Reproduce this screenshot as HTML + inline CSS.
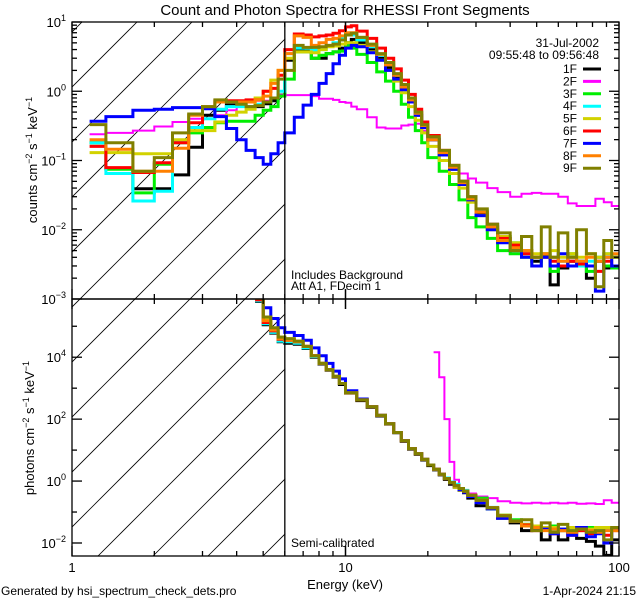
<!DOCTYPE html>
<html><head><meta charset="utf-8"><style>
html,body{margin:0;padding:0;background:#fff;}
svg{display:block;font-family:"Liberation Sans",sans-serif;}
</style></head><body>
<svg id="chart" width="640" height="600" viewBox="0 0 640 600" xmlns="http://www.w3.org/2000/svg">
<defs>
<clipPath id="clipTop"><rect x="72" y="22" width="547" height="277"/></clipPath>
<clipPath id="clipBot"><rect x="72" y="299" width="547" height="257"/></clipPath>
<clipPath id="clipHatch"><rect x="72" y="22" width="213.5" height="534"/></clipPath>
</defs>
<rect width="640" height="600" fill="#fff"/>
<g id="hatch" clip-path="url(#clipHatch)" stroke="#000" stroke-width="0.8"></g>
<g id="topSeries" clip-path="url(#clipTop)"></g>
<g id="botSeries" clip-path="url(#clipBot)"></g>
<g id="axes" stroke="#000" fill="none" stroke-width="1.3"></g>
<g id="labels" fill="#000"></g>
<text x="345" y="15" font-size="15" text-anchor="middle">Count and Photon Spectra for RHESSI Front Segments</text>
<text x="599" y="47" font-size="12" text-anchor="end">31-Jul-2002</text>
<text x="599" y="59" font-size="12" text-anchor="end">09:55:48 to 09:56:48</text>
<text x="291" y="279" font-size="12">Includes Background</text>
<text x="291" y="290" font-size="12">Att A1, FDecim 1</text>
<text x="291" y="547" font-size="12">Semi-calibrated</text>
<text x="345" y="589" font-size="13" text-anchor="middle">Energy (keV)</text>
<text x="1" y="595" font-size="12">Generated by hsi_spectrum_check_dets.pro</text>
<text x="636" y="595" font-size="12" text-anchor="end">1-Apr-2024 21:15</text>
<text transform="translate(37,160) rotate(-90)" font-size="13" text-anchor="middle">counts cm<tspan dy="-5" font-size="9">−2</tspan><tspan dy="5"> s</tspan><tspan dy="-5" font-size="9">−1</tspan><tspan dy="5"> keV</tspan><tspan dy="-5" font-size="9">−1</tspan></text>
<text transform="translate(34,428) rotate(-90)" font-size="13" text-anchor="middle">photons cm<tspan dy="-5" font-size="9">−2</tspan><tspan dy="5"> s</tspan><tspan dy="-5" font-size="9">−1</tspan><tspan dy="5"> keV</tspan><tspan dy="-5" font-size="9">−1</tspan></text>
</svg>
<script>
// ---- data ----
const detectors = ["1F","2F","3F","4F","5F","6F","7F","8F","9F"];
const colors = ["#000000","#ff00ff","#00ee00","#00ffff","#d2d200","#ff0000","#0000ff","#ff8000","#808000"];
const topEdges = [1.16,1.33,1.67,2,2.33,2.67,3,3.33,3.67,4,4.33,4.67,5,5.33,5.67,6,6.5,7,7.5,8,8.5,9,9.5,10,10.5,11,12,13,14,15,16,17,18,19,20,22,24,26,28,30,33,36,40,44,48,52,56,60,65,70,76,82,88,94,100];
const counts1F = [0.18,0.076,0.039,0.039,0.062,0.155,0.45,0.53,0.63,0.63,0.6,0.6,0.66,0.73,0.88,2.8,3.9,3.8,3.0,3.0,3.5,3.7,4.2,5.0,5.6,5.0,4.0,3.0,2.2,1.6,1.1,0.7,0.45,0.3,0.2,0.12,0.075,0.045,0.028,0.017,0.011,0.0075,0.0055,0.005,0.0035,0.0042,0.0016,0.0028,0.0035,0.003,0.002,0.0035,0.0028,0.003];
const counts2F = [0.24,0.25,0.27,0.31,0.36,0.4,0.4,0.45,0.53,0.6,0.6,0.73,0.73,0.8,0.88,0.88,0.88,0.88,0.85,0.78,0.78,0.75,0.7,0.68,0.6,0.55,0.42,0.3,0.29,0.29,0.32,0.33,0.34,0.27,0.22,0.14,0.085,0.065,0.055,0.048,0.04,0.035,0.03,0.033,0.034,0.033,0.033,0.03,0.024,0.022,0.022,0.028,0.025,0.022];
const counts3F = [0.18,0.075,0.034,0.088,0.18,0.25,0.3,0.35,0.37,0.37,0.37,0.45,0.53,0.6,0.85,1.5,3.7,3.7,3.0,3.3,3.5,3.7,3.8,4.6,4.2,3.4,2.6,1.9,1.4,1.0,0.65,0.42,0.27,0.18,0.11,0.07,0.045,0.027,0.015,0.011,0.0075,0.005,0.0045,0.004,0.003,0.0045,0.0025,0.003,0.0045,0.0035,0.0025,0.004,0.003,0.0028];
const counts4F = [0.18,0.065,0.026,0.036,0.19,0.3,0.4,0.55,0.6,0.6,0.6,0.65,0.7,0.8,1.0,3.5,4.2,4.2,3.9,4.0,4.5,5.0,5.8,6.5,6.5,5.5,4.4,3.3,2.4,1.7,1.2,0.75,0.5,0.32,0.21,0.13,0.08,0.05,0.03,0.019,0.012,0.008,0.0065,0.005,0.004,0.0045,0.004,0.0035,0.004,0.003,0.0035,0.004,0.0045,0.004];
const counts5F = [0.13,0.13,0.125,0.125,0.2,0.27,0.27,0.36,0.45,0.5,0.55,0.8,1.0,1.45,2.0,3.0,3.7,3.7,3.6,4.0,4.4,4.5,4.8,5.0,5.0,4.6,3.7,2.8,2.0,1.4,0.95,0.6,0.38,0.25,0.16,0.1,0.065,0.04,0.025,0.016,0.01,0.008,0.0065,0.005,0.0045,0.0045,0.005,0.004,0.0045,0.004,0.0045,0.004,0.0045,0.004];
const counts6F = [0.16,0.079,0.067,0.093,0.18,0.35,0.58,0.73,0.73,0.73,0.75,0.75,1.0,1.1,1.7,4.0,6.7,6.5,6.1,6.3,6.5,6.9,7.5,8.5,8.8,7.4,5.8,4.2,3.0,2.1,1.45,0.9,0.55,0.36,0.23,0.14,0.085,0.05,0.03,0.018,0.012,0.0075,0.006,0.0045,0.004,0.004,0.0035,0.003,0.0035,0.0032,0.003,0.0025,0.0035,0.003];
const counts7F = [0.37,0.43,0.53,0.55,0.58,0.58,0.56,0.43,0.29,0.2,0.14,0.11,0.088,0.125,0.18,0.25,0.42,0.63,0.9,1.3,1.8,2.5,3.3,4.2,4.6,4.4,3.6,2.8,2.0,1.5,1.05,0.7,0.45,0.3,0.2,0.12,0.075,0.045,0.027,0.016,0.01,0.0065,0.005,0.004,0.003,0.004,0.003,0.0045,0.003,0.0035,0.003,0.0013,0.004,0.003];
const counts8F = [0.2,0.145,0.07,0.07,0.15,0.45,0.6,0.7,0.7,0.7,0.7,0.75,0.85,1.3,2.0,3.5,6.3,6.0,4.6,5.0,5.6,5.8,6.3,7.0,7.0,6.0,4.6,3.4,2.4,1.7,1.15,0.75,0.48,0.32,0.2,0.13,0.08,0.048,0.028,0.018,0.011,0.007,0.0055,0.005,0.004,0.0045,0.004,0.0035,0.004,0.0035,0.004,0.0035,0.004,0.0045];
const counts9F = [0.33,0.18,0.07,0.11,0.25,0.47,0.6,0.75,0.7,0.65,0.6,0.62,0.7,0.8,1.5,2.0,4.6,4.3,4.3,4.4,4.6,4.8,5.5,6.5,6.9,6.0,4.8,3.5,2.6,1.8,1.25,0.8,0.5,0.33,0.22,0.14,0.085,0.05,0.03,0.02,0.012,0.009,0.005,0.008,0.004,0.011,0.004,0.009,0.004,0.01,0.0045,0.0015,0.007,0.004];
const botEdges = [4.67,5,5.33,5.67,6,6.5,7,7.5,8,8.5,9,9.5,10,11,12,13,14,15,16,17,18,19,20,21,22,23,24,25,26,27,28,30,33,36,40,44,48,52,56,60,65,70,76,82,88,94,100];
// photon flux as log10(photons cm^-2 s^-1 keV^-1)
const photLog1F = [5.8,5.05,4.78,4.5,4.45,4.42,4.28,4.0,3.78,3.58,3.36,3.12,2.84,2.6,2.38,2.1,1.84,1.56,1.28,1.03,0.86,0.68,0.5,0.36,0.2,0.05,-0.1,-0.2,-0.3,-0.38,-0.55,-0.8,-0.9,-1.2,-1.35,-1.6,-1.55,-1.9,-1.65,-1.9,-1.7,-1.85,-1.95,-2.1,-2.4,-1.9];
const photLog2F = [null,null,null,null,null,null,null,null,null,null,null,null,null,null,null,null,null,null,null,null,null,null,null,4.16,3.35,2.0,0.62,0.04,-0.25,-0.32,-0.4,-0.5,-0.55,-0.65,-0.7,-0.72,-0.7,-0.72,-0.7,-0.72,-0.7,-0.73,-0.72,-0.74,-0.62,-0.7];
const photLog3F = [5.85,5.1,4.82,4.55,4.52,4.48,4.32,4.03,3.8,3.6,3.38,3.15,2.85,2.62,2.4,2.12,1.85,1.57,1.3,1.05,0.88,0.7,0.52,0.38,0.22,0.08,-0.05,-0.15,-0.24,-0.33,-0.46,-0.55,-0.9,-1.1,-1.25,-1.4,-1.45,-1.5,-1.45,-1.6,-1.5,-1.55,-1.5,-1.6,-1.55,-1.5];
const photLog4F = [5.82,5.08,4.8,4.52,4.5,4.45,4.3,4.02,3.8,3.6,3.38,3.15,2.85,2.62,2.4,2.12,1.85,1.57,1.3,1.05,0.88,0.7,0.52,0.38,0.22,0.1,-0.03,-0.1,-0.24,-0.3,-0.46,-0.62,-0.85,-1.1,-1.3,-1.4,-1.5,-1.55,-1.6,-1.55,-1.6,-1.55,-1.65,-1.6,-1.55,-1.55];
const photLog5F = [6.0,5.25,4.9,4.65,4.58,4.52,4.35,4.05,3.8,3.6,3.38,3.15,2.85,2.62,2.4,2.12,1.85,1.57,1.3,1.05,0.88,0.7,0.52,0.38,0.22,0.08,-0.05,-0.2,-0.3,-0.33,-0.46,-0.62,-0.86,-1.1,-1.3,-1.4,-1.45,-1.5,-1.5,-1.55,-1.5,-1.6,-1.55,-1.5,-1.5,-1.55];
const photLog6F = [5.85,5.12,4.85,4.58,4.55,4.5,4.35,4.05,3.8,3.6,3.38,3.15,2.85,2.62,2.4,2.12,1.85,1.57,1.3,1.05,0.88,0.7,0.52,0.38,0.22,0.08,-0.05,-0.15,-0.24,-0.33,-0.46,-0.62,-0.86,-1.12,-1.3,-1.42,-1.6,-1.55,-1.7,-1.6,-1.75,-1.6,-1.7,-1.65,-1.75,-1.6];
const photLog7F = [5.95,5.6,5.25,4.95,4.8,4.7,4.55,4.3,4.05,3.8,3.55,3.3,2.92,2.65,2.4,2.12,1.85,1.57,1.3,1.05,0.88,0.7,0.52,0.38,0.22,0.08,-0.05,-0.15,-0.28,-0.36,-0.5,-0.7,-0.9,-1.2,-1.3,-1.45,-1.55,-1.55,-1.7,-1.55,-1.75,-1.5,-1.8,-1.7,-2.0,-1.55];
const photLog8F = [5.9,5.18,4.88,4.6,4.55,4.5,4.35,4.05,3.8,3.6,3.38,3.15,2.85,2.62,2.4,2.12,1.85,1.57,1.3,1.05,0.88,0.7,0.52,0.38,0.22,0.08,-0.05,-0.15,-0.24,-0.33,-0.46,-0.62,-0.86,-1.12,-1.3,-1.45,-1.5,-1.6,-1.55,-1.6,-1.65,-1.55,-1.6,-1.65,-1.6,-1.6];
const photLog9F = [6.0,5.3,4.95,4.65,4.6,4.52,4.35,4.05,3.8,3.6,3.38,3.15,2.85,2.62,2.4,2.12,1.85,1.57,1.3,1.05,0.88,0.7,0.52,0.38,0.22,0.08,-0.05,-0.15,-0.24,-0.33,-0.46,-0.62,-0.86,-1.12,-1.3,-1.25,-1.6,-1.35,-1.65,-1.4,-1.6,-1.55,-1.65,-1.6,-1.9,-1.5];
const topSeries = [counts1F,counts2F,counts3F,counts4F,counts5F,counts6F,counts7F,counts8F,counts9F];
const botSeries = [photLog1F,photLog2F,photLog3F,photLog4F,photLog5F,photLog6F,photLog7F,photLog8F,photLog9F];
const topYTicks = [1,0,-1,-2,-3];
const botYTicks = [4,2,0,-2];
const xTickLabels = ["1","10","100"];
const cutEnergy = 6.0;

// ---- axes ----
const X0 = 72, X1 = 619, TT = 22, TB = 299, BT = 299, BB = 556;
function xs(e){ return X0 + (X1 - X0) * Math.log10(e) / 2; }
function ysTop(v){ return TT + (1 - Math.log10(v)) * (TB - TT) / 4; }
const botMax = 5.88, botMin = -2.42;
function ysBotLog(l){ return BT + (botMax - l) * (BB - BT) / (botMax - botMin); }

const NS = "http://www.w3.org/2000/svg";
function mk(tag, parent){ const el = document.createElementNS(NS, tag); parent.appendChild(el); return el; }

// hatch
const hatch = document.getElementById('hatch');
for (let k = -1; k < 14; k++) {
  const c = 159 + 55 * k;
  const ln = mk('line', hatch);
  ln.setAttribute('x1', c - 600); ln.setAttribute('y1', 600);
  ln.setAttribute('x2', c); ln.setAttribute('y2', 0);
  
  
}

function stepPath(edges, vals, yfun){
  let d = '', pen = false, lastY = null;
  for (let i = 0; i < vals.length; i++) {
    const v = vals[i];
    if (v === null || v === undefined) { pen = false; continue; }
    const xa = xs(edges[i]), xb = xs(edges[i+1]), y = yfun(v);
    if (!pen) { d += 'M' + xa.toFixed(1) + ' ' + y.toFixed(1); pen = true; }
    else { d += 'L' + xa.toFixed(1) + ' ' + y.toFixed(1); }
    d += 'L' + xb.toFixed(1) + ' ' + y.toFixed(1);
  }
  return d;
}
const gTop = document.getElementById('topSeries');
const gBot = document.getElementById('botSeries');
topSeries.forEach((vals, i) => {
  const p = mk('path', gTop);
  p.setAttribute('d', stepPath(topEdges, vals, ysTop));
  p.setAttribute('fill', 'none'); p.setAttribute('stroke', colors[i]);
  p.setAttribute('stroke-width', i === 1 ? 2 : 3);
  
  
});
botSeries.forEach((vals, i) => {
  const p = mk('path', gBot);
  p.setAttribute('d', stepPath(botEdges, vals, ysBotLog));
  p.setAttribute('fill', 'none'); p.setAttribute('stroke', colors[i]);
  p.setAttribute('stroke-width', i === 1 ? 2 : 3);
  
  
});

// axes frame & ticks
const gA = document.getElementById('axes');
function line(x1,y1,x2,y2,name){ const l = mk('line', gA); l.setAttribute('x1',x1); l.setAttribute('y1',y1); l.setAttribute('x2',x2); l.setAttribute('y2',y2);
  
   return l; }
const fr1 = mk('rect', gA); fr1.setAttribute('x',X0); fr1.setAttribute('y',TT); fr1.setAttribute('width',X1-X0); fr1.setAttribute('height',TB-TT);


const fr2 = mk('rect', gA); fr2.setAttribute('x',X0); fr2.setAttribute('y',BT); fr2.setAttribute('width',X1-X0); fr2.setAttribute('height',BB-BT);


line(xs(cutEnergy), TT, xs(cutEnergy), BB, 'energy-cutoff-line');
// x ticks
for (let dec = 0; dec < 2; dec++) for (let m = 1; m <= 10; m++) {
  const e = m * Math.pow(10, dec); if (e > 100) continue;
  const x = xs(e), L = (m === 1 || m === 10) ? 10 : 5;
  [TT, BT].forEach(y => line(x, y, x, y + L, 'x-tick'));
  [TB, BB].forEach(y => line(x, y, x, y - L, 'x-tick'));
}
// top y ticks
for (let dec = -3; dec <= 1; dec++) for (let m = 1; m <= 9; m++) {
  const v = m * Math.pow(10, dec); if (v > 10.5) continue;
  const y = ysTop(v), L = m === 1 ? 10 : 5;
  line(X0, y, X0 + L, y, 'top-y-tick'); line(X1, y, X1 - L, y, 'top-y-tick');
}
// bottom y ticks
for (let l = -2; l <= 5; l++) {
  const y = ysBotLog(l), L = (l % 2 === 0) ? 10 : 5;
  line(X0, y, X0 + L, y, 'bottom-y-tick'); line(X1, y, X1 - L, y, 'bottom-y-tick');
}
// labels
const gL = document.getElementById('labels');
function pow10Label(x, y, exp, name){
  const t = mk('text', gL); t.setAttribute('x', x); t.setAttribute('y', y); t.setAttribute('font-size', 13); t.setAttribute('text-anchor', 'end');
  
  
  const a = mk('tspan', t); a.textContent = '10';
  const b = mk('tspan', t); b.setAttribute('dy', -6); b.setAttribute('font-size', 9); b.textContent = String(exp).replace('-', '−');
}
topYTicks.forEach(e => pow10Label(66, ysTop(Math.pow(10, e)) + 5, e, 'top-y-tick-label'));
botYTicks.forEach(e => pow10Label(66, ysBotLog(e) + 5, e, 'bottom-y-tick-label'));
xTickLabels.forEach((s, i) => {
  const t = mk('text', gL); t.setAttribute('x', xs(Math.pow(10, i))); t.setAttribute('y', 572); t.setAttribute('font-size', 13); t.setAttribute('text-anchor', 'middle'); t.textContent = s;
  
  
});
// legend
detectors.forEach((d, i) => {
  const y = 69 + i * 12.4;
  const t = mk('text', gL); t.setAttribute('x', 577); t.setAttribute('y', y + 4); t.setAttribute('font-size', 12); t.setAttribute('text-anchor', 'end'); t.textContent = d;
  
  
  const l = mk('line', gL); l.setAttribute('x1', 583); l.setAttribute('x2', 601); l.setAttribute('y1', y); l.setAttribute('y2', y);
  l.setAttribute('stroke', colors[i]); l.setAttribute('stroke-width', 3);
  
  
});
</script>
</body></html>
